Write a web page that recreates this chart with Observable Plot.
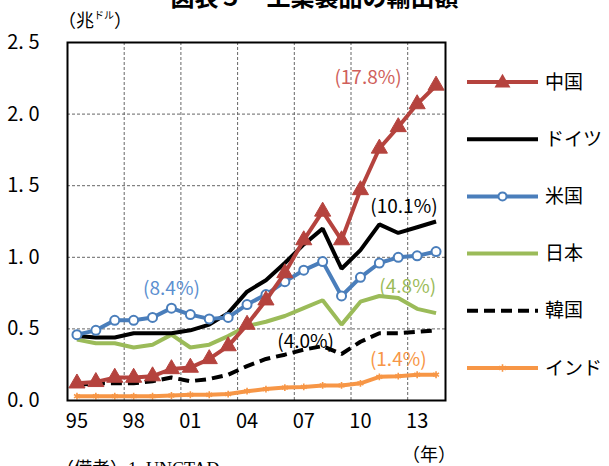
<!DOCTYPE html>
<html><head><meta charset="utf-8">
<script src="https://cdn.jsdelivr.net/npm/d3@7"></script>
<script src="https://cdn.jsdelivr.net/npm/@observablehq/plot@0.6"></script>
<style>
body{margin:0;background:#fff;}
#wrap{position:relative;width:609px;height:466px;overflow:hidden;font-family:"Noto Sans CJK JP",sans-serif;color:#000;}
#wrap svg{position:absolute;left:0;top:0;overflow:visible;}
.title{position:absolute;left:0;width:609px;text-align:center;top:-22px;font-size:24px;font-weight:bold;white-space:nowrap;padding-left:20px;box-sizing:border-box;}
.unit{position:absolute;left:58px;top:6px;font-size:18px;white-space:nowrap;}
.unit small{font-size:10px;vertical-align:8px;}
.nen{position:absolute;left:402px;top:440px;font-size:18px;white-space:nowrap;}
.note{position:absolute;left:56px;top:454px;font-size:18px;white-space:nowrap;font-family:"Liberation Serif","Noto Sans CJK JP",serif;}
</style></head><body><div id="wrap">
<div class="title">図表５　工業製品の輸出額</div>
<div class="unit">（兆<small>ドル</small>）</div>
<div class="nen">（年）</div>
<div class="note">（備考）1. UNCTAD</div>
</div>
<script>
const years = [1995,1996,1997,1998,1999,2000,2001,2002,2003,2004,2005,2006,2007,2008,2009,2010,2011,2012,2013,2014];
const seriesNames = ["中国","ドイツ","米国","日本","韓国","インド"];
const china   = [0.12,0.13,0.16,0.16,0.17,0.22,0.23,0.29,0.38,0.53,0.70,0.89,1.12,1.32,1.12,1.47,1.76,1.91,2.07,2.20];
const germany = [0.45,0.44,0.44,0.47,0.47,0.47,0.49,0.53,0.61,0.76,0.84,0.96,1.09,1.20,0.92,1.05,1.23,1.17,1.21,1.25];
const usa     = [0.46,0.49,0.56,0.56,0.58,0.645,0.60,0.57,0.58,0.67,0.74,0.83,0.91,0.97,0.73,0.86,0.96,1.00,1.01,1.04];
const japan   = [0.425,0.40,0.40,0.37,0.39,0.46,0.37,0.39,0.45,0.52,0.55,0.59,0.645,0.70,0.53,0.69,0.73,0.715,0.64,0.61];
const korea   = [0.11,0.12,0.12,0.12,0.135,0.16,0.135,0.15,0.18,0.24,0.29,0.32,0.355,0.38,0.325,0.41,0.47,0.47,0.48,0.49];
const india   = [0.03,0.03,0.03,0.03,0.03,0.035,0.04,0.04,0.045,0.065,0.08,0.09,0.095,0.105,0.105,0.12,0.165,0.17,0.18,0.18];
const xTicks = [1995,1998,2001,2004,2007,2010,2013];
const xTickLabels = ["95","98","01","04","07","10","13"];
const yTicks = [0,0.5,1,1.5,2,2.5];
const yTickLabels = ["0. 0","0. 5","1. 0","1. 5","2. 0","2. 5"];
const xGrid = [1997.5,2000.5,2003.5,2006.5,2009.5,2012.5];
const yGrid = [0.5,1,1.5,2];
const growthLabels = ["(17.8%)","(10.1%)","(8.4%)","(4.8%)","(4.0%)","(1.4%)"];
const growthLabelYear = [2010.4,2012.3,2000.0,2012.5,2007.1,2012.0];
const growthLabelValue = [2.25,1.35,0.78,0.79,0.41,0.28];

const colors = {"中国":"#b5433e","ドイツ":"#000000","米国":"#4a7ebb","日本":"#9bbb59","韓国":"#000000","インド":"#f79646"};
const labelColors = ["#cf5f5b","#000000","#5b8fd0","#9bbb59","#000000","#f79646"];
const valuesBy = {"中国":china,"ドイツ":germany,"米国":usa,"日本":japan,"韓国":korea,"インド":india};
const rowsOf = name => years.map((year,i)=>({year, value:valuesBy[name][i], name}));
const ann = growthLabels.map((t,i)=>({t, year:growthLabelYear[i], value:growthLabelValue[i], c:labelColors[i]}));

const lineOpts = (name, extra={}) => Object.assign({x:"year", y:"value", stroke:colors[name], strokeWidth:4, strokeLinejoin:"miter", strokeLinecap:"butt"}, extra);

const chart = Plot.plot({
  width:609, height:466,
  marginLeft:67, marginRight:164, marginTop:42, marginBottom:66,
  style:{fontFamily:"'Noto Sans CJK JP', sans-serif", fontSize:"20px", color:"#000", background:"transparent"},
  x:{domain:[1994.5,2014.5]},
  y:{domain:[0,2.5]},
  marks:[
    Plot.gridX(xGrid,{stroke:"#666", strokeOpacity:1, strokeDasharray:"3,2", strokeWidth:1}),
    Plot.gridY(yGrid,{stroke:"#666", strokeOpacity:1, strokeDasharray:"3,2", strokeWidth:1}),
    Plot.line(rowsOf("インド"), lineOpts("インド")),
    Plot.dot(rowsOf("インド"), {x:"year", y:"value", symbol:"asterisk", r:3.2, stroke:colors["インド"], strokeWidth:1.6}),
    Plot.line(rowsOf("韓国"), lineOpts("韓国",{strokeDasharray:"11,6"})),
    Plot.line(rowsOf("日本"), lineOpts("日本")),
    Plot.line(rowsOf("ドイツ"), lineOpts("ドイツ")),
    Plot.line(rowsOf("米国"), lineOpts("米国")),
    Plot.dot(rowsOf("米国"), {x:"year", y:"value", r:4.5, fill:"white", stroke:colors["米国"], strokeWidth:2}),
    Plot.line(rowsOf("中国"), lineOpts("中国")),
    Plot.dot(rowsOf("中国"), {x:"year", y:"value", symbol:"triangle", r:6, fill:colors["中国"], stroke:colors["中国"], strokeWidth:1}),
    Plot.text(ann, {x:"year", y:"value", text:"t", fill:"c", fontSize:19, textAnchor:"middle", lineAnchor:"middle"}),
    Plot.frame({stroke:"#000", strokeWidth:2}),
    Plot.axisY(yTicks, {tickSize:0, tickPadding:28, tickFormat:(d)=>yTickLabels[yTicks.indexOf(d)], fontSize:20, label:null}),
    Plot.axisX(xTicks, {tickSize:0, tickPadding:13, tickFormat:(d)=>xTickLabels[xTicks.indexOf(d)], fontSize:20, label:null})
  ]
});
document.getElementById("wrap").appendChild(chart);

// legend
const legend = d3.select("#wrap").append("svg").attr("width",609).attr("height",466);
const legY0 = 82, legStep = 57.2;
seriesNames.forEach((name,i)=>{
  const g = legend.append("g").attr("transform",`translate(0,${legY0+i*legStep})`);
  g.append("line").attr("x1",467).attr("x2",538).attr("y1",0).attr("y2",0)
    .attr("stroke",colors[name]).attr("stroke-width",4)
    .attr("stroke-dasharray", name==="韓国" ? "11,6" : null);
  if(name==="中国") g.append("path").attr("d",d3.symbol(d3.symbolTriangle, 110)()).attr("transform","translate(502.5,1)").attr("fill",colors[name]);
  if(name==="米国") g.append("circle").attr("cx",502.5).attr("cy",0).attr("r",4).attr("fill","white").attr("stroke",colors[name]).attr("stroke-width",2);
  if(name==="インド") g.append("path").attr("d",d3.symbol(d3.symbolAsterisk, 40)()).attr("transform","translate(502.5,0)").attr("stroke",colors[name]).attr("stroke-width",1.6).attr("fill","none");
  g.append("text").attr("x",545).attr("y",0).attr("dy","0.35em").attr("font-size",19)
    .attr("font-family","'Noto Sans CJK JP', sans-serif").text(name);
});
</script></body></html>
